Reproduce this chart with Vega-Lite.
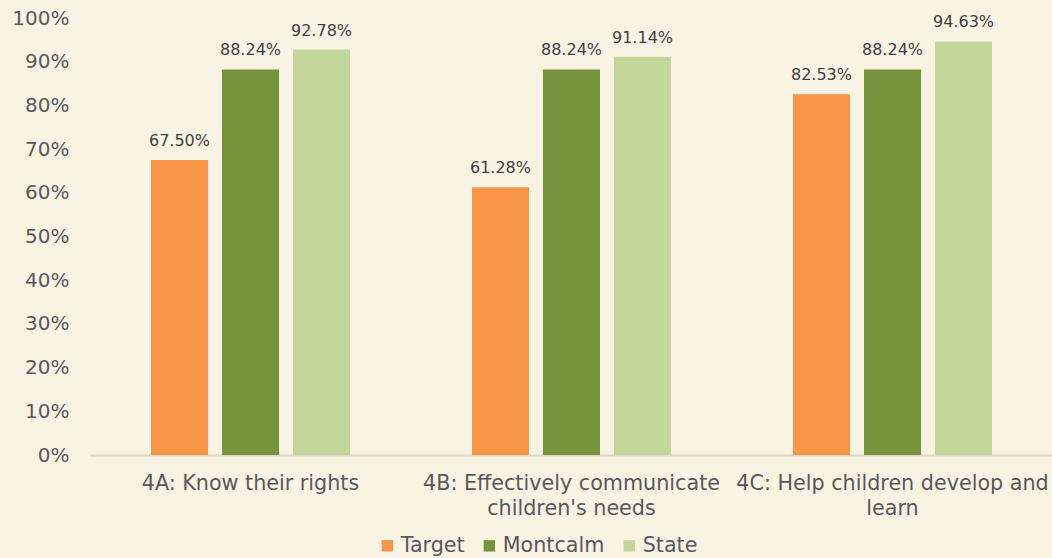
{
  "$schema": "https://vega.github.io/schema/vega-lite/v6.json",
  "width": 963,
  "height": 437,
  "autosize": "none",
  "padding": {"left": 90, "top": 18, "right": 0, "bottom": 103},
  "background": "#f9f3e4",
  "config": {
    "view": {"stroke": null},
    "font": "DejaVu Sans"
  },
  "data": {
    "values": [
      {"category": "4A: Know their rights", "series": "Target", "value": 0.675},
      {"category": "4A: Know their rights", "series": "Montcalm", "value": 0.8824},
      {"category": "4A: Know their rights", "series": "State", "value": 0.9278},
      {"category": "4B: Effectively communicate children's needs", "series": "Target", "value": 0.6128},
      {"category": "4B: Effectively communicate children's needs", "series": "Montcalm", "value": 0.8824},
      {"category": "4B: Effectively communicate children's needs", "series": "State", "value": 0.9114},
      {"category": "4C: Help children develop and learn", "series": "Target", "value": 0.8253},
      {"category": "4C: Help children develop and learn", "series": "Montcalm", "value": 0.8824},
      {"category": "4C: Help children develop and learn", "series": "State", "value": 0.9463}
    ]
  },
  "encoding": {
    "x": {
      "field": "category",
      "type": "nominal",
      "sort": null,
      "scale": {"paddingInner": 0.38, "paddingOuter": 0.19},
      "axis": {
        "title": null,
        "labelAngle": 0,
        "labelFontSize": 20.7,
        "labelColor": "#595959",
        "labelLineHeight": 25,
        "labelPadding": 18,
        "labelLimit": 400,
        "labelOverlap": false,
        "labelBound": false,
        "ticks": false,
        "domainColor": "#dcd8cc",
        "domainWidth": 2,
        "labelExpr": "datum.value == '4B: Effectively communicate children\\'s needs' ? ['4B: Effectively communicate', 'children\\'s needs'] : datum.value == '4C: Help children develop and learn' ? ['4C: Help children develop and', 'learn'] : datum.value"
      }
    },
    "xOffset": {
      "field": "series",
      "type": "nominal",
      "sort": ["Target", "Montcalm", "State"],
      "scale": {"paddingInner": 0.197, "paddingOuter": 0}
    },
    "y": {
      "field": "value",
      "type": "quantitative",
      "scale": {"domain": [0, 1], "nice": false},
      "axis": {
        "title": null,
        "format": ".0%",
        "values": [0, 0.1, 0.2, 0.3, 0.4, 0.5, 0.6, 0.7, 0.8, 0.9, 1],
        "labelOverlap": false,
        "grid": false,
        "domain": false,
        "ticks": false,
        "labelFontSize": 20,
        "labelColor": "#595959",
        "labelPadding": 21
      }
    }
  },
  "layer": [
    {
      "mark": {"type": "bar"},
      "encoding": {
        "color": {
          "field": "series",
          "type": "nominal",
          "sort": ["Target", "Montcalm", "State"],
          "scale": {"domain": ["Target", "Montcalm", "State"], "range": ["#f79646", "#77933c", "#c4d79b"]},
          "legend": {
            "title": null,
            "orient": "none",
            "legendX": 287,
            "legendY": 517,
            "direction": "horizontal",
            "symbolType": "square",
            "symbolSize": 130,
            "symbolStrokeWidth": 0,
            "labelFontSize": 20.7,
            "labelColor": "#595959",
            "labelOffset": 3,
            "columnPadding": 14
          }
        }
      }
    },
    {
      "mark": {"type": "text", "dy": -19, "fontSize": 16, "color": "#404040"},
      "encoding": {
        "text": {"field": "value", "type": "quantitative", "format": ".2%"}
      }
    }
  ]
}
